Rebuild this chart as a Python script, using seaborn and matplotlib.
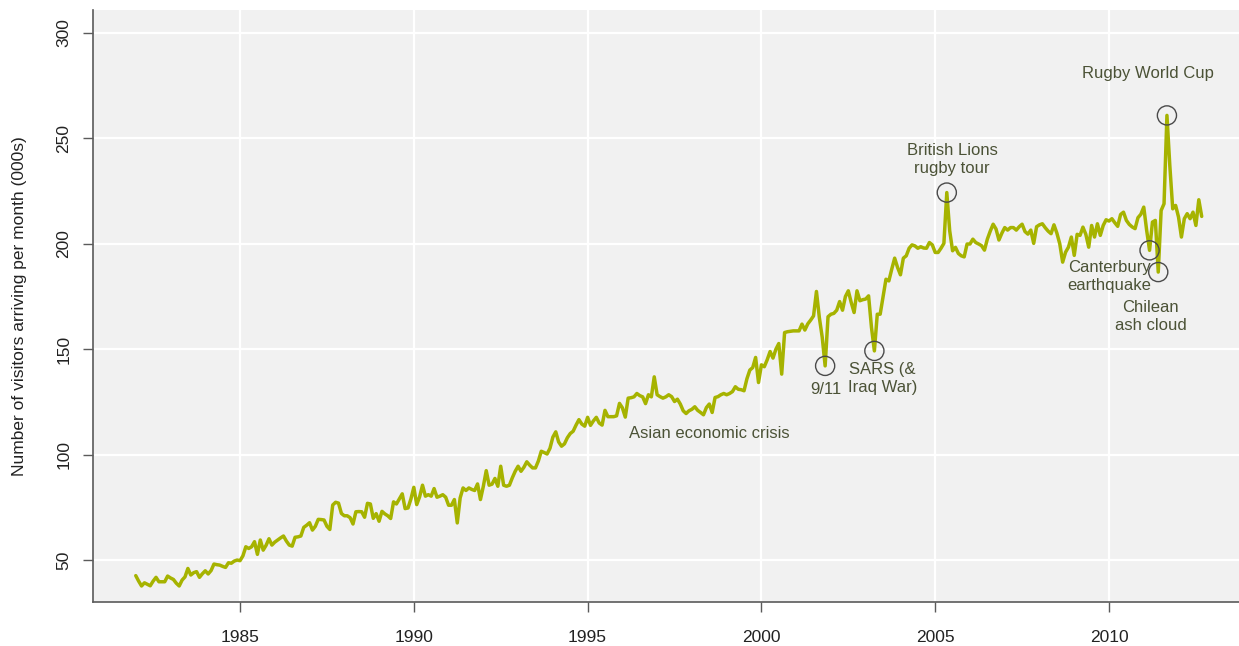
import matplotlib
matplotlib.use("Agg")
import matplotlib.pyplot as plt
import numpy as np
import pandas as pd
import seaborn as sns

# monthly visitor arrivals (000s), Jan 1982 - Sep 2012
v1982 = [42.6, 40.0, 37.7, 39.2, 38.5, 37.8, 40.0, 41.8, 39.7, 39.7, 39.7, 42.4]
v1983 = [41.5, 40.8, 39.0, 37.7, 40.5, 42.0, 46.0, 42.9, 44.0, 44.5, 41.8, 43.5]
v1984 = [44.9, 43.4, 45.0, 48.1, 47.8, 47.6, 47.0, 46.5, 48.7, 48.5, 49.5, 50.0]
v1985 = [49.7, 52.0, 56.3, 55.5, 56.3, 58.7, 52.7, 59.5, 54.7, 57.0, 60.1, 57.1]
v1986 = [58.5, 59.5, 60.5, 61.4, 59.0, 57.1, 56.6, 60.8, 61.0, 61.4, 65.5, 66.5]
v1987 = [67.7, 64.2, 66.0, 69.3, 69.2, 69.0, 66.0, 64.5, 76.1, 77.4, 77.0, 72.1]
v1988 = [71.0, 71.0, 70.1, 67.1, 72.9, 73.0, 72.9, 70.3, 76.9, 76.6, 69.8, 72.0]
v1989 = [68.4, 73.1, 71.9, 71.0, 69.7, 77.6, 76.6, 79.0, 81.4, 74.4, 74.7, 79.0]
v1990 = [84.5, 76.3, 80.0, 85.5, 80.3, 81.0, 80.3, 83.9, 79.8, 80.3, 81.0, 79.8]
v1991 = [76.0, 76.0, 78.7, 67.6, 79.5, 84.2, 83.0, 84.2, 83.5, 83.0, 86.1, 78.7]
v1992 = [85.0, 92.4, 85.5, 86.0, 88.7, 85.0, 94.5, 85.5, 85.0, 85.5, 89.0, 92.1]
v1993 = [94.5, 92.1, 94.0, 96.6, 95.0, 93.7, 93.7, 97.0, 101.6, 101.0, 100.3, 103.0]
v1994 = [108.3, 110.8, 106.0, 104.0, 105.1, 108.0, 110.0, 111.1, 114.0, 116.6, 114.5, 113.5]
v1995 = [117.7, 113.9, 116.0, 117.7, 115.0, 114.0, 121.0, 118.0, 118.0, 118.0, 118.4, 124.3]
v1996 = [122.2, 117.8, 126.8, 127.0, 127.4, 129.0, 128.0, 127.4, 124.2, 128.4, 127.4, 136.9]
v1997 = [128.4, 127.5, 126.8, 127.4, 128.4, 127.5, 125.2, 126.3, 124.0, 120.8, 119.5, 120.8]
v1998 = [121.5, 122.7, 121.0, 120.0, 118.9, 122.3, 124.0, 120.0, 127.1, 127.5, 128.4, 129.0]
v1999 = [128.4, 129.0, 129.9, 132.2, 131.0, 130.8, 130.3, 136.0, 140.1, 141.3, 146.1, 134.2]
v2000 = [142.6, 141.7, 145.0, 148.9, 145.8, 150.0, 152.7, 138.2, 157.9, 158.3, 158.5, 158.7]
v2001 = [158.7, 158.7, 161.9, 159.1, 162.0, 163.8, 165.8, 177.4, 165.0, 155.6, 142.1, 165.4]
v2002 = [166.6, 167.0, 168.5, 172.6, 168.5, 175.0, 177.7, 172.2, 167.4, 177.7, 173.0, 173.5]
v2003 = [173.8, 175.3, 160.3, 149.2, 166.6, 166.6, 174.9, 183.2, 182.4, 188.0, 193.2, 188.8]
v2004 = [185.3, 193.2, 194.3, 197.9, 199.5, 199.0, 197.9, 198.6, 198.0, 197.9, 200.6, 199.5]
v2005 = [195.9, 195.9, 197.9, 200.2, 224.3, 206.2, 196.7, 198.3, 195.4, 194.3, 193.8, 199.9]
v2006 = [199.9, 202.2, 200.6, 199.9, 199.1, 197.0, 202.2, 206.0, 209.3, 207.0, 201.8, 205.0]
v2007 = [207.7, 206.5, 207.7, 207.7, 206.5, 208.1, 209.3, 205.8, 204.6, 206.5, 200.2, 208.1]
v2008 = [209.0, 209.5, 207.6, 206.0, 204.8, 209.0, 205.1, 200.0, 191.3, 196.0, 198.4, 203.2]
v2009 = [194.5, 204.5, 204.0, 207.9, 204.5, 198.4, 208.7, 203.2, 209.5, 204.0, 208.7, 211.4]
v2010 = [210.8, 211.9, 210.0, 208.3, 213.9, 215.0, 211.1, 209.2, 208.0, 207.2, 212.4, 214.0]
v2011 = [217.4, 206.4, 196.9, 210.3, 211.1, 186.6, 215.8, 219.0, 260.9, 237.0, 216.6, 218.2]
v2012 = [212.7, 203.2, 211.9, 214.3, 211.9, 215.0, 208.7, 220.9, 213.0]

anni = list(range(1982, 2013))
serii = [v1982, v1983, v1984, v1985, v1986, v1987, v1988, v1989, v1990, v1991,
         v1992, v1993, v1994, v1995, v1996, v1997, v1998, v1999, v2000, v2001,
         v2002, v2003, v2004, v2005, v2006, v2007, v2008, v2009, v2010, v2011,
         v2012]

# circled events: (year, month 1-12)
evenimente = [(2001, 11), (2003, 4), (2005, 5), (2011, 3), (2011, 6), (2011, 9)]

x_ticks = [1985, 1990, 1995, 2000, 2005, 2010]
y_ticks = [50, 100, 150, 200, 250, 300]

# build table
randuri = []
for an, valori in zip(anni, serii):
    for luna, v in enumerate(valori):
        randuri.append({"an": an, "luna": luna + 1, "data": an + luna / 12.0, "vizitatori": v})
t = pd.DataFrame(randuri)

ev = pd.concat([t[(t["an"] == a) & (t["luna"] == l)] for a, l in evenimente])

sns.set_style("whitegrid")
plt.rcParams["font.family"] = ["Liberation Sans", "DejaVu Sans"]

culoare_linie = "#a6b300"
culoare_text = "#4b5236"
culoare_ax = "#5a5a5a"

fig = plt.figure(figsize=(12.39, 6.46), dpi=100)
ax = fig.add_axes([93 / 1239, 44 / 646, 1146 / 1239, 592 / 646])
ax.set_facecolor("#f1f1f1")

sns.lineplot(data=t, x="data", y="vizitatori", ax=ax, color=culoare_linie,
             linewidth=2.5, estimator=None)
sns.scatterplot(data=ev, x="data", y="vizitatori", ax=ax, s=190,
                facecolor="none", edgecolor="#4a4a4a", linewidth=1.0, zorder=4)

ax.set_xlim(1980.77, 2013.74)
ax.set_ylim(30.1, 310.9)
ax.set_xticks(x_ticks)
ax.set_yticks(y_ticks)
ax.grid(True, color="white", linewidth=1.6)
ax.set_axisbelow(True)

for s in ["top", "right"]:
    ax.spines[s].set_visible(False)
for s in ["left", "bottom"]:
    ax.spines[s].set_visible(True)
    ax.spines[s].set_color(culoare_ax)
    ax.spines[s].set_linewidth(1.2)

ax.tick_params(axis="both", which="major", bottom=True, left=True, direction="out",
               length=7.5, width=1.0, color=culoare_ax, labelsize=12.5, labelcolor="#222222")
ax.tick_params(axis="x", pad=13)
ax.tick_params(axis="y", pad=8, labelrotation=90)
for lab in ax.get_yticklabels():
    lab.set_va("center")

ax.set_xlabel("")
ax.set_ylabel("Number of visitors arriving per month (000s)", fontsize=12.5, color="#222222")
ax.yaxis.set_label_coords(-0.058, 0.5)

note = dict(fontsize=12, color=culoare_text, ha="center", va="center", linespacing=1.25)
ax.text(2011.12, 281, "Rugby World Cup", **note)
ax.text(2005.49, 239.8, "British Lions\nrugby tour", **note)
ax.text(2010.0, 184.7, "Canterbury\nearthquake", **note)
ax.text(2011.2, 165.3, "Chilean\nash cloud", **note)
ax.text(2003.48, 136.3, "SARS (&\nIraq War)", **note)
ax.text(2001.86, 131.1, "9/11", **note)
ax.text(1998.51, 110.2, "Asian economic crisis", **note)

plt.savefig("out.png", dpi=100)
